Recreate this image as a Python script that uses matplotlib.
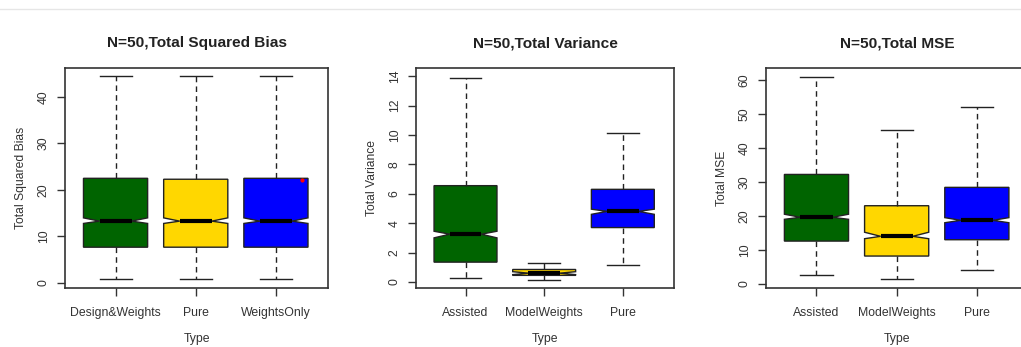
import matplotlib.pyplot as plt
from matplotlib.lines import Line2D

plt.rcParams['font.family'] = ['Liberation Sans', 'DejaVu Sans']

# values: upper whisker, Q3, median, Q1, lower whisker, notch lo/hi
bias_types = ['Design&Weights', 'Pure', 'WeightsOnly']
bias_hi = [44.5, 44.5, 44.5]
bias_q3 = [22.5, 22.3, 22.5]
bias_med = [13.3, 13.3, 13.3]
bias_q1 = [7.7, 7.7, 7.7]
bias_lo = [0.8, 0.8, 0.8]
bias_ci = [(12.8, 14.0), (12.8, 14.0), (12.8, 14.0)]

var_types = ['Assisted', 'ModelWeights', 'Pure']
var_hi = [13.85, 1.3, 10.1]
var_q3 = [6.55, 0.85, 6.3]
var_med = [3.25, 0.6, 4.8]
var_q1 = [1.35, 0.45, 3.7]
var_lo = [0.25, 0.15, 1.15]
var_ci = [(3.0, 3.45), (0.5, 0.7), (4.6, 4.95)]

mse_types = ['Assisted', 'ModelWeights', 'Pure']
mse_hi = [60.8, 45.3, 52.0]
mse_q3 = [32.2, 23.0, 28.4]
mse_med = [19.6, 14.0, 18.7]
mse_q1 = [12.6, 8.2, 13.0]
mse_lo = [2.5, 1.4, 4.2]
mse_ci = [(19.0, 20.5), (13.3, 15.2), (18.0, 19.5)]

# stray red point in the first panel
red_x = [3.33]
red_y = [22.2]

colors = ['#006400', '#FFD700', '#0000FF']

panels = [
    ('N=50,Total Squared Bias', 'Total Squared Bias', bias_types, bias_hi, bias_q3, bias_med, bias_q1, bias_lo, bias_ci,
     [0, 10, 20, 30, 40], (-1.07, 46.2), [0.0637, 0.170, 0.2576, 0.634]),
    ('N=50,Total Variance', 'Total Variance', var_types, var_hi, var_q3, var_med, var_q1, var_lo, var_ci,
     list(range(0, 15, 2)), (-0.41, 14.55), [0.4074, 0.170, 0.2527, 0.634]),
    ('N=50,Total MSE', 'Total MSE', mse_types, mse_hi, mse_q3, mse_med, mse_q1, mse_lo, mse_ci,
     list(range(0, 61, 10)), (-1.2, 63.5), [0.7502, 0.170, 0.2576, 0.634]),
]

fig = plt.figure(figsize=(10.21, 3.47), dpi=100)
fig.add_artist(Line2D([0, 1], [1 - 9 / 347, 1 - 9 / 347], color='#e6e6e6', lw=1))

for i, (title, ylab, types, hi, q3, med, q1, lo, ci, yt, ylim, pos) in enumerate(panels):
    ax = fig.add_axes(pos)
    stats = []
    for j in range(3):
        stats.append(dict(whishi=hi[j], q3=q3[j], med=med[j], q1=q1[j], whislo=lo[j],
                          cilo=ci[j][0], cihi=ci[j][1], fliers=[]))
    bp = ax.bxp(stats, positions=[1, 2, 3], widths=0.8, shownotches=True, patch_artist=True,
                boxprops=dict(edgecolor='#222222', linewidth=1),
                whiskerprops=dict(color='#222222', linestyle=(0, (4, 3)), linewidth=1),
                capprops=dict(color='#222222', linewidth=1),
                medianprops=dict(color='black', linewidth=3, solid_capstyle='butt'),
                capwidths=0.4)
    for patch, c in zip(bp['boxes'], colors):
        patch.set_facecolor(c)
    if i == 0:
        ax.plot(red_x, red_y, 'o', color='red', ms=2, zorder=5)
    ax.set_xlim(0.37, 3.65)
    ax.set_ylim(*ylim)
    ax.set_yticks(yt)
    ax.set_yticklabels([str(v) for v in yt], rotation=90, va='center', fontsize=8.7, color='#333333')
    ax.set_xticks([1, 2, 3])
    ax.set_xticklabels(types, fontsize=8.8, color='#333333')
    ax.tick_params(direction='out', length=6, width=1, color='#333333', pad=5)
    ax.tick_params(axis='x', pad=8)
    for s in ax.spines.values():
        s.set_linewidth(1.2)
        s.set_color('#333333')
    ax.set_title(title, fontsize=11.1, fontweight='bold', color='#222222', pad=15)
    ax.set_xlabel('Type', fontsize=8.8, color='#333333', labelpad=10)
    ax.set_ylabel(ylab, fontsize=8.7, color='#333333', labelpad=8)

fig.savefig('out.png', dpi=100)
